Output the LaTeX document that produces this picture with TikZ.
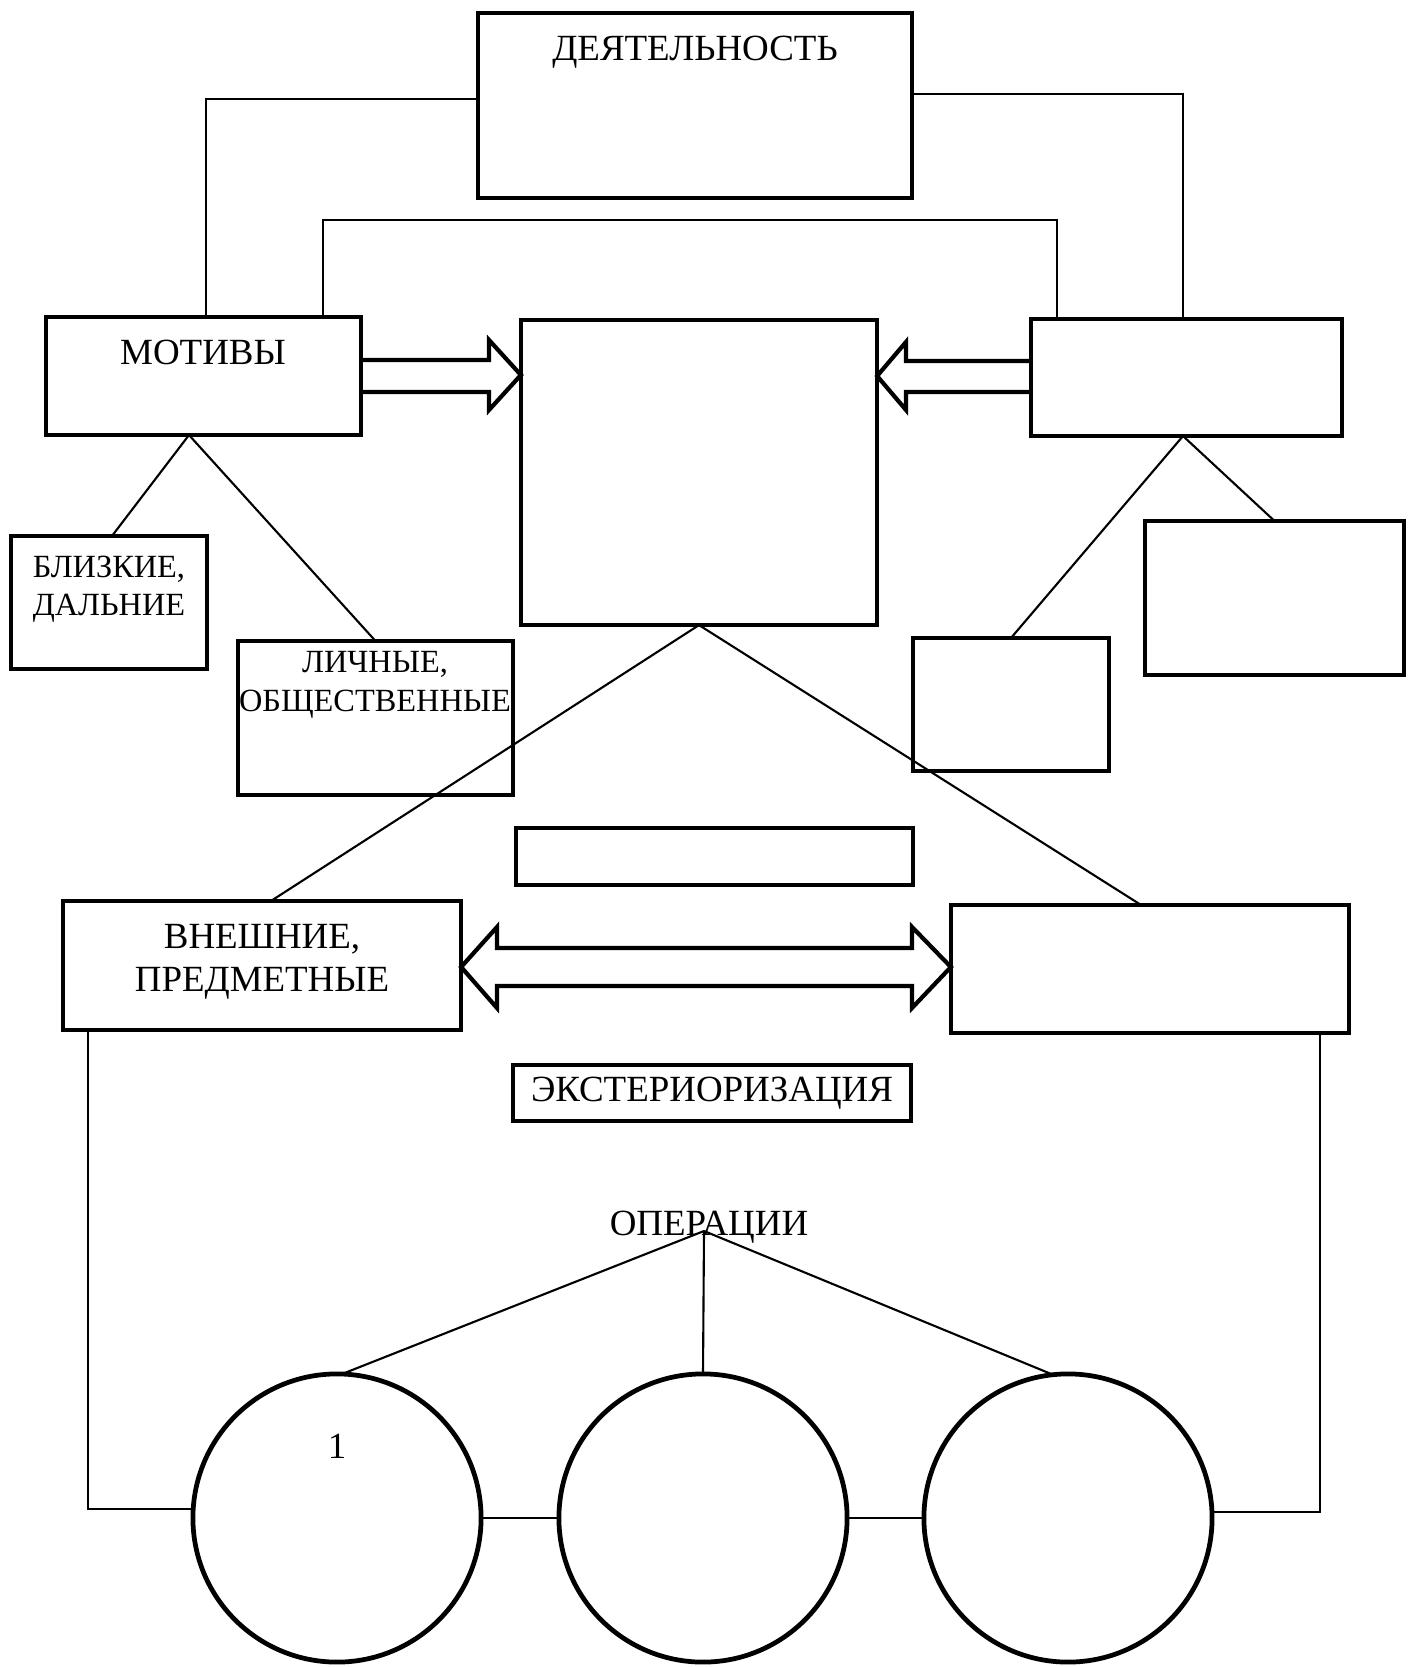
\documentclass[tikz,border=0pt]{standalone}
\usepackage{fontspec}
\setmainfont{Liberation Serif}
\usetikzlibrary{positioning}
\tikzset{
  box/.style={draw, line width=1.2pt, inner sep=0pt, outer sep=0pt},
  ring/.style={draw, circle, line width=1.35pt, inner sep=0pt, outer sep=0pt, minimum size=2.88cm},
  link/.style={line width=0.6pt},
  fat/.style={line width=1.2pt},
  lbl/.style={inner sep=0pt, align=center, font=\fontsize{10.5}{12.2}\selectfont},
  lblsmall/.style={inner sep=0pt, align=center, font=\fontsize{9.2}{10.9}\selectfont}
}
\begin{document}
\begin{tikzpicture}[x=0.01cm,y=-0.01cm]
\useasboundingbox (0,0) rectangle (1417,1667);
% boxes
\node[box, minimum width=4.34cm, minimum height=1.85cm] (deyat) at (695,105.5) {};
\node[box, minimum width=3.15cm, minimum height=1.18cm] (motiv) at (203.5,376) {};
\node[box, minimum width=3.56cm, minimum height=3.05cm] (cel) at (699,472.5) {};
\node[box, minimum width=3.11cm, minimum height=1.17cm] (rtop) at (1186.5,377.5) {};
\node[box, minimum width=1.96cm, minimum height=1.33cm] (blizk) at (109,602.5) {};
\node[box, minimum width=2.75cm, minimum height=1.54cm] (lichn) at (375.5,718) {};
\node[box, minimum width=1.96cm, minimum height=1.33cm] (rsmall) at (1011,704.5) {};
\node[box, minimum width=2.59cm, minimum height=1.54cm] (rbig) at (1274.5,598) {};
\node[box, minimum width=3.97cm, minimum height=0.57cm] (mid) at (714.5,856.5) {};
\node[box, minimum width=3.98cm, minimum height=1.29cm] (vnesh) at (262,965.5) {};
\node[box, minimum width=3.98cm, minimum height=1.28cm] (rlow) at (1150,969) {};
\node[box, lbl, minimum width=3.98cm, minimum height=0.56cm] (ekster) at (712,1093) {ЭКСТЕРИОРИЗАЦИЯ};
% circles
\node[ring] (c1) at (337,1518) {};
\node[ring] (c2) at (703,1518) {};
\node[ring] (c3) at (1068,1518) {};
% texts
\node[lbl, anchor=base] (tdeyat) at (695,61) {ДЕЯТЕЛЬНОСТЬ};
\node[lbl, anchor=base] (tmotiv) at (203,364) {МОТИВЫ};
\node[lblsmall, anchor=north] (tblizk) at (109,555) {БЛИЗКИЕ,\\ДАЛЬНИЕ};
\node[lblsmall, anchor=north] (tlichn) at (375,651) {ЛИЧНЫЕ,\\ОБЩЕСТВЕННЫЕ};
\node[lbl, anchor=north] (tvnesh) at (262,924) {ВНЕШНИЕ,\\ПРЕДМЕТНЫЕ};
\node[lbl, anchor=base] (oper) at (709,1235) {ОПЕРАЦИИ};
\node[lbl, anchor=base] (tone) at (337,1458) {1};
\coordinate (opapex) at (704,1231);
% fat arrows
\draw[fat] (motiv.east |- 0,360) -- (489,360) -- (489,340) -- (cel.west |- 0,375)
  -- (489,410) -- (489,392) -- (motiv.east |- 0,392);
\draw[fat] (rtop.west |- 0,361) -- (906,361) -- (906,342) -- (cel.east |- 0,376)
  -- (906,410) -- (906,392) -- (rtop.west |- 0,392);
\draw[fat] (497,948) -- (912,948) -- (912,927) -- (rlow.west |- 0,967) -- (912,1008)
  -- (912,986) -- (497,986) -- (497,1008) -- (vnesh.east |- 0,967) -- (497,927) -- cycle;
% links
\draw[link] (deyat.west |- 0,99) -| (motiv.north -| 206,0);
\draw[link] (deyat.east |- 0,94) -| (rtop.north -| 1183,0);
\draw[link] (motiv.north -| 323,0) |- (1057,220) -- (rtop.north -| 1057,0);
\draw[link] (motiv.south -| 189,0) -- (blizk.north -| 112,0);
\draw[link] (motiv.south -| 189,0) -- (lichn.north);
\draw[link] (rtop.south -| 1183,0) -- (rsmall.north);
\draw[link] (rtop.south -| 1183,0) -- (rbig.north);
\draw[link] (cel.south) -- (vnesh.north -| 271,0);
\draw[link] (cel.south) -- (rlow.north -| 1141,0);
\draw[link] (vnesh.south -| 88,0) |- (c1.west |- 0,1509);
\draw[link] (rlow.south -| 1320,0) |- (c3.east |- 0,1512);
\draw[link] (c1) -- (c2);
\draw[link] (c2) -- (c3);
\draw[link] (opapex) -- (c1.88);
\draw[link] (opapex) -- (c2.north);
\draw[link] (opapex) -- (c3.96);
\end{tikzpicture}
\end{document}
